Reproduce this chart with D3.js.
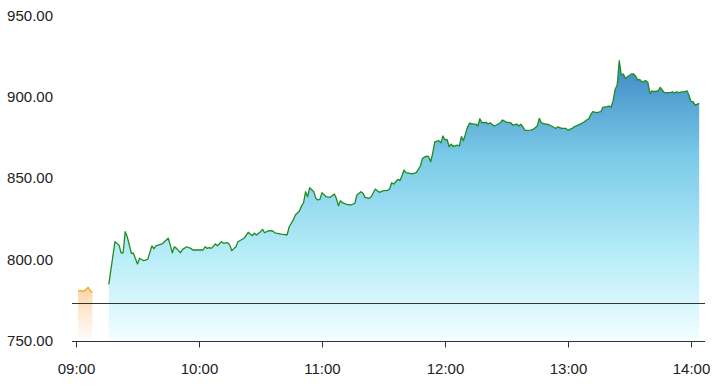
<!DOCTYPE html>
<html>
<head>
<meta charset="utf-8">
<script src="https://cdn.jsdelivr.net/npm/d3@7"></script>
<style>
  html, body { margin: 0; padding: 0; background: #fff; }
  svg { display: block; }
  text { font-family: "Liberation Sans", Arial, Helvetica, sans-serif; }
</style>
</head>
<body>
<svg id="chart" width="714" height="390"></svg>
<script>
// ---------- data ----------
const preTimes  = ["09:01","09:03","09:04","09:06","09:07","09:08"];
const preValues = [781.0, 780.8, 780.8, 783.0, 781.0, 779.7];

const mainTimes = [
"09:16","09:19","09:21","09:22","09:23","09:24","09:25","09:27","09:28","09:30",
"09:31","09:33","09:35","09:37","09:38","09:39","09:42","09:43","09:45","09:46",
"09:47","09:48","09:49","09:51","09:52","09:54","09:56","09:57","10:00","10:02",
"10:03","10:04","10:05","10:06","10:08","10:09","10:11","10:12","10:14","10:15",
"10:16","10:18","10:19","10:22","10:24","10:26","10:27","10:28","10:30","10:31",
"10:32","10:34","10:36","10:37","10:40","10:42","10:43","10:44","10:46","10:47",
"10:49","10:50","10:51","10:52","10:53","10:54","10:56","10:57","10:58","10:59",
"11:00","11:02","11:04","11:06","11:07","11:08","11:09","11:10","11:12","11:14",
"11:16","11:17","11:19","11:20","11:21","11:23","11:24","11:26","11:27","11:28",
"11:30","11:32","11:33","11:34","11:35","11:37","11:38","11:39","11:40","11:41",
"11:44","11:46","11:48","11:49","11:51","11:52","11:53","11:54","11:55","11:57",
"11:58","11:59","12:00","12:01","12:02","12:03","12:04","12:06","12:07","12:08",
"12:09","12:11","12:12","12:14","12:15","12:16","12:17","12:18","12:20","12:21",
"12:22","12:24","12:25","12:27","12:28","12:30","12:32","12:33","12:35","12:36",
"12:37","12:38","12:39","12:42","12:43","12:45","12:46","12:47","12:49","12:50",
"12:52","12:54","12:55","12:57","12:59","13:00","13:02","13:03","13:06","13:08",
"13:09","13:10","13:11","13:12","13:14","13:16","13:17","13:19","13:20","13:21",
"13:22","13:23","13:24","13:25","13:26","13:27","13:28","13:29","13:31","13:32",
"13:33","13:34","13:35","13:36","13:38","13:39","13:40","13:41","13:42","13:44",
"13:45","13:47","13:48","13:50","13:51","13:52","13:53","13:54","13:55","13:57",
"13:58","13:59","14:00","14:01","14:02","14:04"];
const mainValues = [
784.9,811.1,809.0,804.3,804.3,817.3,814.2,804.0,804.0,797.4,
800.9,799.4,800.3,808.5,806.8,808.5,809.7,810.9,813.2,809.0,
804.3,808.0,807.0,804.3,806.4,808.0,807.0,806.0,806.0,806.0,
808.0,807.0,807.4,807.0,809.7,808.6,811.1,810.1,810.5,809.0,
805.6,808.0,811.1,813.2,816.9,814.8,816.3,815.2,817.3,818.7,
816.6,817.9,817.7,816.6,815.8,815.4,815.4,820.3,824.5,827.5,
830.0,833.0,835.1,841.9,838.8,844.3,841.9,837.8,836.8,837.2,
841.3,838.8,838.4,840.5,837.8,833.3,836.3,835.1,834.1,833.7,
834.7,839.8,841.9,840.9,838.4,837.8,838.8,843.5,842.5,841.5,
842.5,842.7,843.5,847.4,846.6,849.5,848.7,851.5,855.2,853.6,
852.8,853.6,857.7,862.4,863.8,863.4,860.3,865.5,872.5,873.3,
872.0,876.2,873.7,874.1,869.7,871.2,869.7,870.6,870.0,875.8,
873.3,881.8,884.0,883.4,883.5,882.3,886.8,884.3,884.6,883.5,
884.3,882.3,882.9,884.3,886.0,884.7,884.3,882.9,883.5,882.3,
883.4,881.8,879.6,879.8,880.2,882.3,887.0,884.3,883.5,883.5,
882.3,880.8,881.8,880.8,880.8,879.6,880.8,881.8,883.5,884.9,
886.0,886.5,889.0,891.1,890.5,891.1,893.8,894.2,894.6,893.8,
897.9,904.8,907.5,922.5,913.7,914.3,911.6,912.6,914.3,914.3,
913.0,910.6,911.0,909.5,910.2,908.9,902.4,904.0,903.4,904.0,
906.1,902.8,902.8,902.8,903.4,902.4,903.4,902.8,903.2,903.4,
904.0,901.4,897.3,897.3,895.2,896.2];

const prevClose = 773.5;
const yTicks = [750, 800, 850, 900, 950];
const xTickTimes = ["09:00","10:00","11:00","12:00","13:00","14:00"];

// ---------- scales ----------
const parse = d3.timeParse("%H:%M");
const svg = d3.select("#chart");

const x = d3.scaleTime()
  .domain([parse("09:00"), parse("14:00")])
  .range([76, 691]);
const y = d3.scaleLinear().domain([750, 950]).range([341, 16]);

const pre = preTimes.map((t, i) => ({ t: parse(t), v: preValues[i] }));
const main = mainTimes.map((t, i) => ({ t: parse(t), v: mainValues[i] }));

// ---------- gradients ----------
const defs = svg.append("defs");
const gBlue = defs.append("linearGradient").attr("id", "gBlue")
  .attr("gradientUnits", "userSpaceOnUse")
  .attr("x1", 0).attr("x2", 0).attr("y1", y(925)).attr("y2", y(750));
[[0, "#3c84c3"], [0.35, "#7acae8"], [0.7, "#b8edf8"], [1, "#f3feff"]]
  .forEach(([o, c]) => gBlue.append("stop").attr("offset", o).attr("stop-color", c));

const gOrange = defs.append("linearGradient").attr("id", "gOrange")
  .attr("gradientUnits", "userSpaceOnUse")
  .attr("x1", 0).attr("x2", 0).attr("y1", y(784)).attr("y2", y(750));
[[0, "#fdd3a0"], [0.6, "#feeedd"], [1, "#fffdfb"]]
  .forEach(([o, c]) => gOrange.append("stop").attr("offset", o).attr("stop-color", c));

// ---------- areas & lines ----------
const area = d3.area().x(d => x(d.t)).y0(y(750)).y1(d => y(d.v));
const line = d3.line().x(d => x(d.t)).y(d => y(d.v));

svg.append("path").datum(pre).attr("d", area).attr("fill", "url(#gOrange)");
svg.append("path").datum(pre).attr("d", line)
  .attr("fill", "none").attr("stroke", "#f6a92a").attr("stroke-width", 1.4)
  .attr("stroke-linejoin", "round");

svg.append("path").datum(main).attr("d", area).attr("fill", "url(#gBlue)");
svg.append("path").datum(main).attr("d", line)
  .attr("fill", "none").attr("stroke", "#1f8c1f").attr("stroke-width", 1.3)
  .attr("stroke-linejoin", "round");

// ---------- previous close line ----------
svg.append("line")
  .attr("x1", 72).attr("x2", 705)
  .attr("y1", Math.round(y(prevClose)) + 0.5).attr("y2", Math.round(y(prevClose)) + 0.5)
  .attr("stroke", "#333").attr("stroke-width", 1);

// ---------- axes ----------
const xAxis = d3.axisBottom(x)
  .tickValues(xTickTimes.map(parse))
  .tickFormat(d3.timeFormat("%H:%M"))
  .tickSize(6).tickSizeOuter(0).tickPadding(16);
const gx = svg.append("g").attr("transform", `translate(0,${Math.round(y(750)) + 0.5})`).call(xAxis);
gx.select(".domain").attr("d", "M72,0H705").attr("stroke", "#333");
gx.selectAll(".tick line").attr("stroke", "#333");
gx.selectAll("text").attr("font-size", 15).attr("fill", "#222")
  .style("font-family", '"Liberation Sans", Arial, sans-serif');

const gy = svg.append("g");
gy.selectAll("text").data(yTicks).join("text")
  .attr("x", 53).attr("y", d => y(d)).attr("dy", "0.33em")
  .attr("text-anchor", "end").attr("font-size", 15).attr("fill", "#222")
  .text(d => d3.format(".2f")(d));
</script>
</body>
</html>
